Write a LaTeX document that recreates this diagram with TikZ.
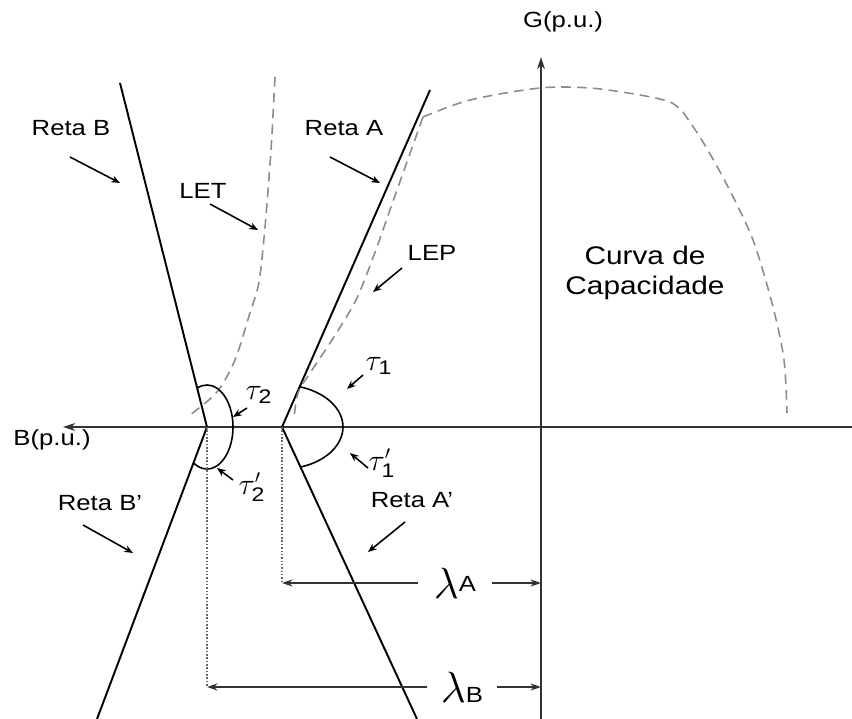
\documentclass[tikz,border=0pt]{standalone}
\usepackage{fontspec}
\setmainfont{Liberation Sans}[FakeStretch=1.17]
\setsansfont{Liberation Sans}[FakeStretch=1.17]
\usetikzlibrary{arrows.meta,calc,positioning}
\tikzset{seta/.style={-{Stealth[length=5pt,width=4pt]}, line width=0.9pt},
  eixo/.style={line width=0.9pt, black!80},
  reta/.style={line width=1.1pt},
  arco/.style={line width=0.9pt},
  limite/.style={gray!90, line width=0.9pt, dash pattern=on 5.5pt off 3.5pt},
  guia/.style={gray!80!black, line width=0.9pt, densely dotted},
  cota/.style={line width=0.9pt, black!80, -{Stealth[length=6pt,width=4pt]}},
  rotulo/.style={inner sep=0pt, font=\fontsize{12.5}{15}\selectfont},
  angulo/.style={inner sep=0pt, font=\fontsize{16}{18}\selectfont}}

\begin{document}
\begin{tikzpicture}[x=0.02cm, y=-0.02cm]
  \useasboundingbox (0,0) rectangle (852,719);
  \coordinate (O) at (541,427);
  \coordinate (A) at (282,427);
  \coordinate (B) at (207,427);
  \coordinate (topA) at (430,90);
  \coordinate (botA) at (417,719);
  \coordinate (topB) at (120,83);
  \coordinate (botB) at (97,719);
  \coordinate (iniB) at (852,427);
  \coordinate (fimB) at (63,427);
  \coordinate (iniG) at (541,719);
  \coordinate (fimG) at (541,57);
  % eixos
  \draw[eixo, -{Stealth[length=7pt,width=4.5pt]}] (iniB) -- (fimB);
  \draw[eixo, -{Stealth[length=7pt,width=4.5pt]}] (iniG) -- (fimG);
  \node[rotulo] (eixoG) at (563,22) {G(p.u.)};
  \node[rotulo] (eixoB) at (52,440) {B(p.u.)};
  % retas
  \draw[reta] (topB) -- (B) -- (botB);
  \draw[reta] (topA) -- (A) -- (botA);
  % limites e curva de capacidade
  \draw[limite] plot[smooth] coordinates {(275,77) (271,150) (265,227) (259,282) (249,316) (235,360) (217,392) (190,415)};
  \draw[limite] plot[smooth] coordinates {(423,117) (397,190) (374,255) (356,300) (332,340) (310,373) (298,393) (294,418)};
  \draw[limite] plot[smooth] coordinates {(423,117) (470,100) (540,88) (590,88) (640,95) (670,102) (683,112)};
  \draw[limite] plot[smooth] coordinates {(683,112) (703,142) (727,185) (753,240) (773,307) (784,360) (787,413)};
  % angulos
  \draw[arco] ([shift={(-73.2:61 and 42)}]A) arc[start angle=-73.2, end angle=72.2, x radius=61, y radius=42];
  \draw[arco] ([shift={(-112.2:26 and 42)}]B) arc[start angle=-112.2, end angle=121.3, x radius=26, y radius=42];
  % rotulos
  \node[rotulo] (retaB) at (71,128) {Reta B};
  \node[rotulo] (let) at (203,191) {LET};
  \node[rotulo] (retaA) at (344,128) {Reta A};
  \node[rotulo] (lep) at (432,253) {LEP};
  \node[rotulo, font=\fontsize{14.5}{17}\selectfont, align=center] (curva) at (645,273) {Curva de\\Capacidade};
  \node[rotulo] (retaAl) at (412,500) {Reta A'};
  \node[rotulo] (retaBl) at (100,503) {Reta B'};
  \node[angulo] (t1) at (378,366) {$\tau_{\mathsf{1}}$};
  \node[angulo] (t1l) at (381,463) {$\tau'_{\mathsf{1}}$};
  \node[angulo] (t2) at (258,395) {$\tau_{\mathsf{2}}$};
  \node[angulo] (t2l) at (251,487) {$\tau'_{\mathsf{2}}$};
  % setas dos rotulos
  \foreach \n/\x/\y in {sB0/70/157, sB1/120/183, sLET0/210/204, sLET1/258/230,
      sA0/330/157, sA1/380/183, sLEP0/402/268, sLEP1/373/292,
      sT0/363/375, sT1/347/389, sTl0/368/468, sTl1/350/453,
      sAl0/405/522, sAl1/368/552, sU0/247/408, sU1/233/417,
      sUl0/233/480, sUl1/217/468, sBl0/83/525, sBl1/133/553}
    \coordinate (\n) at (\x,\y);
  \foreach \n in {sB, sLET, sA, sLEP, sT, sTl, sAl, sU, sUl, sBl}
    \draw[seta] (\n0) -- (\n1);
  % cotas
  \node[rotulo, inner xsep=9pt] (lamA) at (455,583) {{\fontsize{24}{24}\selectfont$\lambda$}\raisebox{4pt}{A}};
  \node[rotulo, inner xsep=8pt] (lamB) at (462,687) {{\fontsize{24}{24}\selectfont$\lambda$}B};
  \draw[guia] (A) -- (A |- lamA.west);
  \draw[guia] (B) -- (B |- lamB.west);
  \draw[cota] (lamA.west) -- (A |- lamA.west);
  \draw[cota] (lamA.east) -- (O |- lamA.east);
  \draw[cota] (lamB.west) -- (B |- lamB.west);
  \draw[cota] (lamB.east) -- (O |- lamB.east);
\end{tikzpicture}
\end{document}
